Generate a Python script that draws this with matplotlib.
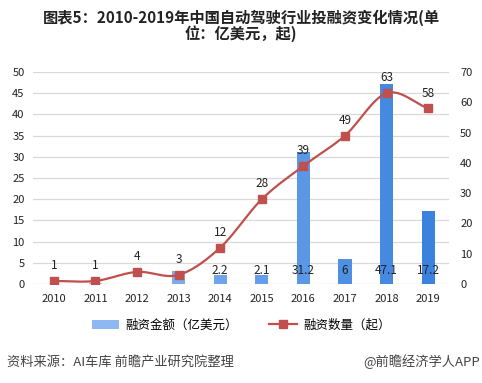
import numpy as np
import matplotlib.pyplot as plt
from matplotlib.lines import Line2D
from matplotlib.patches import Patch

plt.rcParams['font.family'] = ['Noto Sans CJK SC', 'DejaVu Sans']

years = ['2010', '2011', '2012', '2013', '2014', '2015', '2016', '2017', '2018', '2019']
amount = [0, 0.3, 0, 3, 2.2, 2.1, 31.2, 6, 47.1, 17.2]      # 融资金额（亿美元）
count = [1, 1, 4, 3, 12, 28, 39, 49, 63, 58]                # 融资数量（起）
amount_labels = ['', '', '', '', '2.2', '2.1', '31.2', '6', '47.1', '17.2']

fig = plt.figure(figsize=(4.82, 3.83), dpi=100)
ax = fig.add_axes([0.0685, 0.2585, 0.863, 0.5535])
ax2 = ax.twinx()

x = np.arange(len(years))

# bar colours go from light to darker blue, left to right
c0 = np.array([0x9a, 0xc0, 0xf4]) / 255
c1 = np.array([0x3a, 0x82, 0xde]) / 255
cols = [tuple(c0 + (c1 - c0) * i / (len(x) - 1)) for i in x]

ax.bar(x, amount, width=0.32, color=cols, zorder=2)
ax.set_ylim(0, 50)
ax.set_yticks(range(0, 51, 5))
ax.set_xlim(-0.5, len(x) - 0.5)
ax.set_xticks(x)
ax.set_xticklabels(years)
ax.grid(axis='y', color='#d9d9d9', linewidth=0.9, zorder=0)
ax.set_axisbelow(True)
for a in (ax, ax2):
    for s in a.spines.values():
        s.set_visible(False)
    a.tick_params(length=0, labelsize=8, colors='#222222')
ax.tick_params(axis='x', pad=7)
ax.tick_params(axis='y', pad=6)
ax2.tick_params(axis='y', pad=8)

for xi, lab in zip(x, amount_labels):
    if lab:
        ax.text(xi, 3.2, lab, ha='center', va='center', fontsize=8.5, color='#222222', zorder=4)


# Catmull-Rom curve through the points, like Excel's smoothed line
def smooth(xs, ys, n=20):
    xs = np.asarray(xs, float)
    ys = np.asarray(ys, float)
    px = np.concatenate([[2 * xs[0] - xs[1]], xs, [2 * xs[-1] - xs[-2]]])
    py = np.concatenate([[2 * ys[0] - ys[1]], ys, [2 * ys[-1] - ys[-2]]])
    ox, oy = [], []
    t = np.linspace(0, 1, n, endpoint=False)
    for i in range(1, len(px) - 2):
        for p, o in ((px, ox), (py, oy)):
            p0, p1, p2, p3 = p[i - 1], p[i], p[i + 1], p[i + 2]
            o.extend(0.5 * (2 * p1 + (-p0 + p2) * t + (2 * p0 - 5 * p1 + 4 * p2 - p3) * t ** 2
                            + (-p0 + 3 * p1 - 3 * p2 + p3) * t ** 3))
    ox.append(xs[-1])
    oy.append(ys[-1])
    return np.array(ox), np.array(oy)


sx, sy = smooth(x, count)
red = '#c0504d'
ax2.plot(sx, sy, color=red, linewidth=1.6, zorder=3)
ax2.plot(x, count, linestyle='none', marker='s', markersize=5.5, color=red, zorder=4)
ax2.set_ylim(0, 70)
ax2.set_yticks(range(0, 71, 10))
for xi, v in zip(x, count):
    ax2.annotate(str(v), (xi, v), xytext=(0, 11), textcoords='offset points',
                 ha='center', va='center', fontsize=8.5, color='#222222')

handles = [Patch(facecolor='#8db8f2', edgecolor='none'),
           Line2D([0], [0], color=red, linewidth=1.6, marker='s', markersize=5.5)]
fig.legend(handles, ['融资金额（亿美元）', '融资数量（起）'], loc='center',
           bbox_to_anchor=(0.5, 0.151), ncol=2, frameon=False, fontsize=9,
           handlelength=2.2, columnspacing=2.5, handletextpad=0.5)

fig.text(0.5, 0.932, '图表5：2010-2019年中国自动驾驶行业投融资变化情况(单\n位：亿美元，起)',
         ha='center', va='center', fontsize=11, fontweight='bold', color='#222222',
         linespacing=0.95)
fig.text(0.015, 0.055, '资料来源：AI车库 前瞻产业研究院整理', ha='left', va='center',
         fontsize=9.5, color='#444444')
fig.text(0.995, 0.055, '@前瞻经济学人APP', ha='right', va='center', fontsize=9.5, color='#444444')

fig.savefig('out.png', dpi=100)
